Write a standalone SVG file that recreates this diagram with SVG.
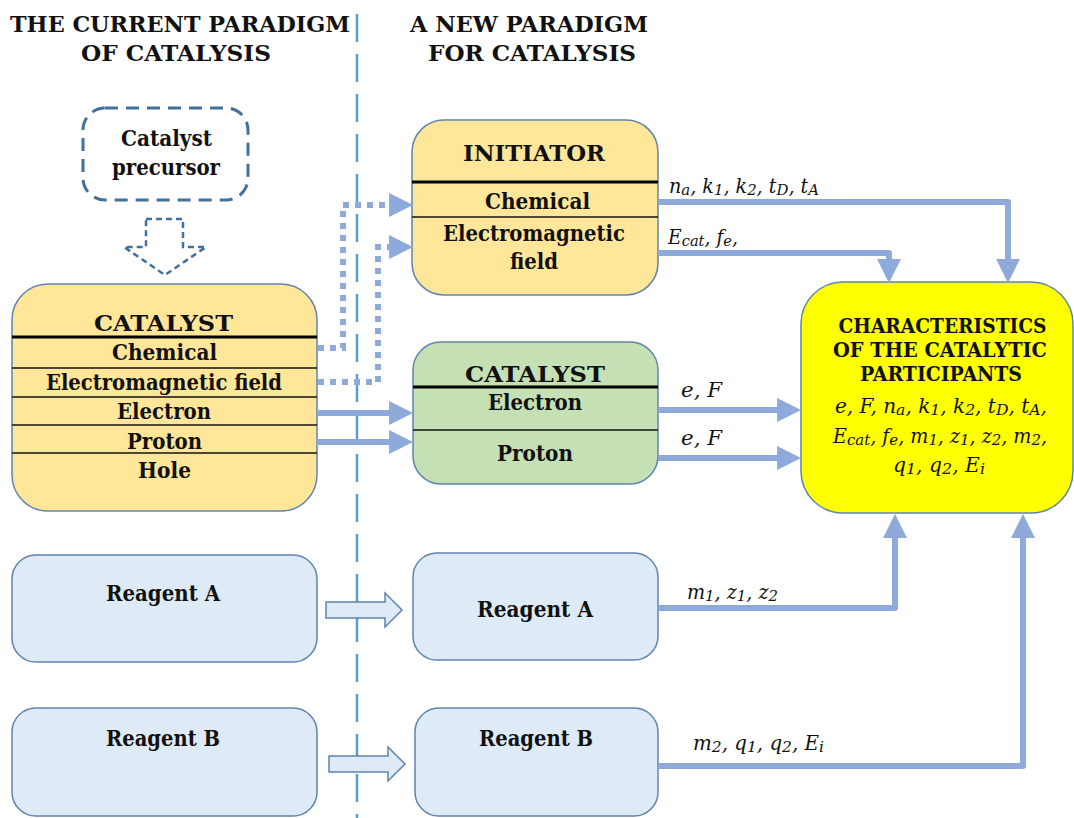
<svg xmlns="http://www.w3.org/2000/svg" width="1074" height="818" viewBox="0 0 1074 818">
<style>
text{font-family:'DejaVu Serif','Liberation Serif',serif;fill:#111}
.b{font-weight:bold;text-anchor:middle}
.i{font-style:italic}
.s{font-size:78%;baseline-shift:-2px}
.box{stroke:#5f84ad;stroke-width:1.5}
.y{fill:#ffe699}
.g{fill:#c5e0b4}
.r{fill:#deebf7}
.thick{stroke:#000;stroke-width:3}
.thin{stroke:#111;stroke-width:1.5}
.con{fill:none;stroke:#8eaadb;stroke-width:6;stroke-linejoin:round}
.dot{fill:none;stroke:#8eaadb;stroke-width:6;stroke-dasharray:6 6}
</style>
<defs>
<marker id="ah" markerUnits="userSpaceOnUse" markerWidth="24" markerHeight="24" viewBox="0 0 22 22" refX="10" refY="11" orient="auto">
<path d="M0,0 L22,11 L0,22 z" fill="#8eaadb"/>
</marker>
</defs>
<rect width="1074" height="818" fill="#fff"/>
<g id="headers">
<text class="b" x="180" y="32" font-size="23" textLength="340" lengthAdjust="spacingAndGlyphs">THE CURRENT PARADIGM</text>
<text class="b" x="176" y="61" font-size="23" textLength="190" lengthAdjust="spacingAndGlyphs">OF CATALYSIS</text>
<text class="b" x="529" y="32" font-size="23" textLength="238" lengthAdjust="spacingAndGlyphs">A NEW PARADIGM</text>
<text class="b" x="532" y="61" font-size="23" textLength="208" lengthAdjust="spacingAndGlyphs">FOR CATALYSIS</text>
</g>
<g id="divider">
<line x1="357" y1="14" x2="357" y2="818" stroke="#5b9bd5" stroke-width="2.5" stroke-dasharray="28 12"/>
</g>
<g id="precursor">
<rect x="83" y="108" width="165" height="92" rx="22" fill="#fff" stroke="#41719c" stroke-width="3" stroke-dasharray="13 8"/>
<text class="b" x="166.5" y="146" font-size="22" textLength="91" lengthAdjust="spacingAndGlyphs">Catalyst</text>
<text class="b" x="166" y="175" font-size="22" textLength="108" lengthAdjust="spacingAndGlyphs">precursor</text>
</g>
<g id="precursor-arrow">
<path d="M146,219 H183 V247 H206 L165,275 L124,247 H146 Z" fill="#fff" stroke="#41719c" stroke-width="2.5" stroke-dasharray="6 4"/>
</g>
<g id="catalyst-current">
<rect class="box y" x="12" y="284" width="305" height="227" rx="36"/>
<line class="thick" x1="12" y1="337" x2="317" y2="337"/>
<line class="thin" x1="12" y1="368" x2="317" y2="368"/>
<line class="thin" x1="12" y1="397" x2="317" y2="397"/>
<line class="thin" x1="12" y1="425" x2="317" y2="425"/>
<line class="thin" x1="12" y1="453" x2="317" y2="453"/>
<text class="b" x="163.5" y="331" font-size="22" textLength="139" lengthAdjust="spacingAndGlyphs">CATALYST</text>
<text class="b" x="164.5" y="360" font-size="21.5" textLength="105" lengthAdjust="spacingAndGlyphs">Chemical</text>
<text class="b" x="164" y="390" font-size="21.5" textLength="236" lengthAdjust="spacingAndGlyphs">Electromagnetic field</text>
<text class="b" x="164" y="419" font-size="21.5" textLength="94" lengthAdjust="spacingAndGlyphs">Electron</text>
<text class="b" x="164.5" y="449" font-size="21.5" textLength="75" lengthAdjust="spacingAndGlyphs">Proton</text>
<text class="b" x="164.5" y="478" font-size="21.5" textLength="53" lengthAdjust="spacingAndGlyphs">Hole</text>
</g>
<g id="initiator">
<rect class="box y" x="412" y="120" width="246" height="175" rx="32"/>
<line class="thick" x1="412" y1="182" x2="658" y2="182"/>
<line class="thin" x1="412" y1="217" x2="658" y2="217"/>
<text class="b" x="534" y="161" font-size="22" textLength="142" lengthAdjust="spacingAndGlyphs">INITIATOR</text>
<text class="b" x="537.5" y="209" font-size="21.5" textLength="105" lengthAdjust="spacingAndGlyphs">Chemical</text>
<text class="b" x="534" y="241" font-size="21.5" textLength="182" lengthAdjust="spacingAndGlyphs">Electromagnetic</text>
<text class="b" x="534" y="269" font-size="21.5" textLength="48" lengthAdjust="spacingAndGlyphs">field</text>
</g>
<g id="catalyst-new">
<rect class="box g" x="413" y="342" width="245" height="142" rx="28"/>
<line class="thick" x1="413" y1="387" x2="658" y2="387"/>
<line class="thin" x1="413" y1="430" x2="658" y2="430"/>
<text class="b" x="535" y="382" font-size="22" textLength="140" lengthAdjust="spacingAndGlyphs">CATALYST</text>
<text class="b" x="535" y="410" font-size="21.5" textLength="94" lengthAdjust="spacingAndGlyphs">Electron</text>
<text class="b" x="535" y="461" font-size="21.5" textLength="76" lengthAdjust="spacingAndGlyphs">Proton</text>
</g>
<g id="characteristics">
<rect x="801" y="282" width="272" height="231" rx="42" fill="#ffff00" stroke="#5f84ad" stroke-width="1.5"/>
<text class="b" x="942.5" y="333" font-size="20" textLength="208" lengthAdjust="spacingAndGlyphs">CHARACTERISTICS</text>
<text class="b" x="940" y="357" font-size="20" textLength="214" lengthAdjust="spacingAndGlyphs">OF THE CATALYTIC</text>
<text class="b" x="941" y="381" font-size="20" textLength="162" lengthAdjust="spacingAndGlyphs">PARTICIPANTS</text>
<text class="i" x="835" y="413" font-size="20" textLength="212" lengthAdjust="spacingAndGlyphs">e, F, n<tspan class="s">a</tspan>, k<tspan class="s">1</tspan>, k<tspan class="s">2</tspan>, t<tspan class="s">D</tspan>, t<tspan class="s">A</tspan>,</text>
<text class="i" x="833" y="443" font-size="20" textLength="214" lengthAdjust="spacingAndGlyphs">E<tspan class="s">cat</tspan>, f<tspan class="s">e</tspan>, m<tspan class="s">1</tspan>, z<tspan class="s">1</tspan>, z<tspan class="s">2</tspan>, m<tspan class="s">2</tspan>,</text>
<text class="i" x="893" y="472" font-size="20" textLength="92" lengthAdjust="spacingAndGlyphs">q<tspan class="s">1</tspan>, q<tspan class="s">2</tspan>, E<tspan class="s">i</tspan></text>
</g>
<g id="reagentA-current">
<rect class="box r" x="12" y="555" width="305" height="107" rx="24"/>
<text class="b" x="163" y="601" font-size="21.5" textLength="114" lengthAdjust="spacingAndGlyphs">Reagent A</text>
</g>
<g id="reagentB-current">
<rect class="box r" x="12" y="708" width="305" height="108" rx="24"/>
<text class="b" x="163" y="746" font-size="21.5" textLength="114" lengthAdjust="spacingAndGlyphs">Reagent B</text>
</g>
<g id="reagentA-new">
<rect class="box r" x="413" y="553" width="245" height="107" rx="24"/>
<text class="b" x="535" y="617" font-size="21.5" textLength="116" lengthAdjust="spacingAndGlyphs">Reagent A</text>
</g>
<g id="reagentB-new">
<rect class="box r" x="415" y="708" width="243" height="108" rx="24"/>
<text class="b" x="536" y="746" font-size="21.5" textLength="114" lengthAdjust="spacingAndGlyphs">Reagent B</text>
</g>
<g id="connectors">
<path d="M326,602 H385 V593 L402,610 L385,627 V618 H326 Z" fill="#deebf7" stroke="#5f84ad" stroke-width="1.5"/>
<path d="M329,756 H388 V747 L405,764 L388,781 V772 H329 Z" fill="#deebf7" stroke="#5f84ad" stroke-width="1.5"/>
<path class="dot" d="M318,348 H343 V205 H395"/>
<path d="M392,205 H400" stroke="#8eaadb" stroke-width="6" marker-end="url(#ah)"/>
<path class="dot" d="M318,382 H378 V247 H395"/>
<path d="M392,247 H400" stroke="#8eaadb" stroke-width="6" marker-end="url(#ah)"/>
<path class="con" d="M317,413 H400" marker-end="url(#ah)"/>
<path class="con" d="M317,442 H400" marker-end="url(#ah)"/>
<path class="con" d="M658,202 H1008 V270" marker-end="url(#ah)"/>
<path class="con" d="M658,253 H889 V270" marker-end="url(#ah)"/>
<path class="con" d="M658,410 H788" marker-end="url(#ah)"/>
<path class="con" d="M658,458 H788" marker-end="url(#ah)"/>
<path class="con" d="M658,608 H895 V527" marker-end="url(#ah)"/>
<path class="con" d="M658,766 H1023 V527" marker-end="url(#ah)"/>
<text class="i" x="669" y="193" font-size="20" textLength="150" lengthAdjust="spacingAndGlyphs">n<tspan class="s">a</tspan>, k<tspan class="s">1</tspan>, k<tspan class="s">2</tspan>, t<tspan class="s">D</tspan>, t<tspan class="s">A</tspan></text>
<text class="i" x="668" y="244" font-size="20" textLength="70" lengthAdjust="spacingAndGlyphs">E<tspan class="s">cat</tspan>, f<tspan class="s">e</tspan>,</text>
<text class="i" x="681" y="397" font-size="20" textLength="41" lengthAdjust="spacingAndGlyphs">e, F</text>
<text class="i" x="681" y="445" font-size="20" textLength="41" lengthAdjust="spacingAndGlyphs">e, F</text>
<text class="i" x="687" y="599" font-size="20" textLength="91" lengthAdjust="spacingAndGlyphs">m<tspan class="s">1</tspan>, z<tspan class="s">1</tspan>, z<tspan class="s">2</tspan></text>
<text class="i" x="693" y="750" font-size="20" textLength="131" lengthAdjust="spacingAndGlyphs">m<tspan class="s">2</tspan>, q<tspan class="s">1</tspan>, q<tspan class="s">2</tspan>, E<tspan class="s">i</tspan></text>
</g>
</svg>
